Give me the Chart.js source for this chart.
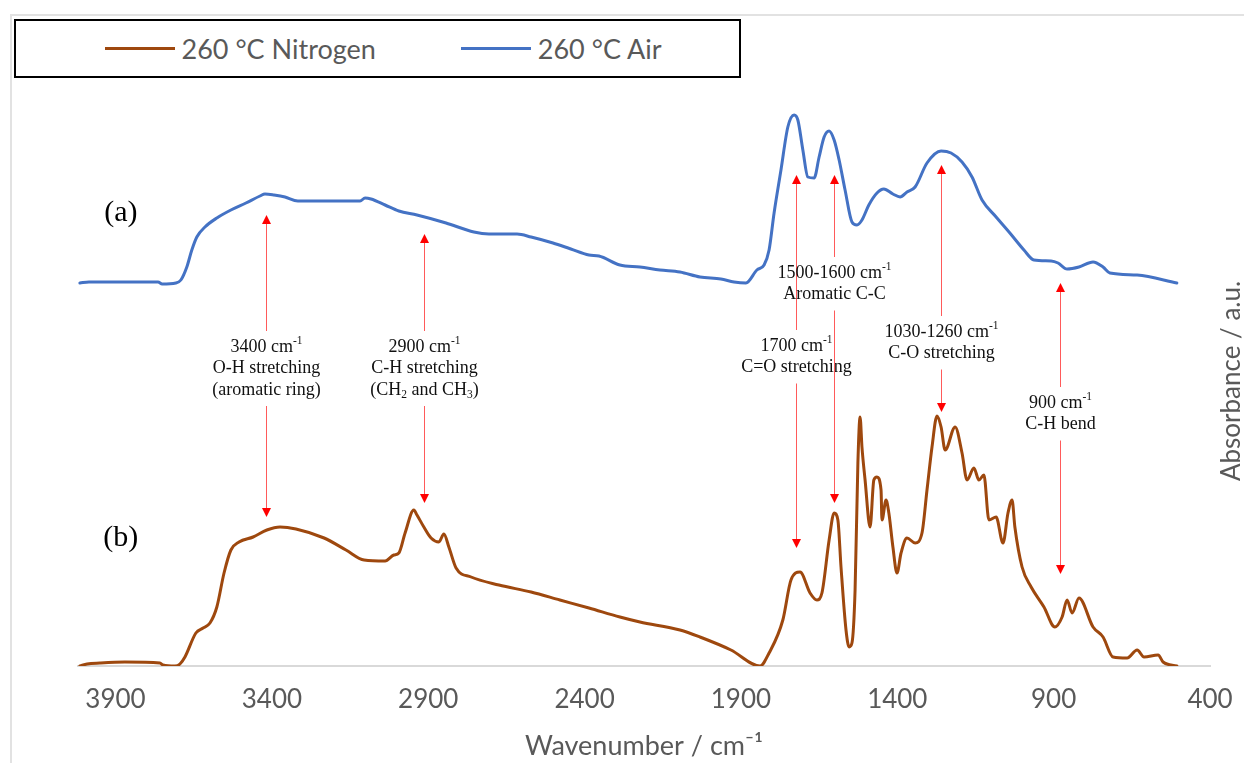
<!DOCTYPE html>
<html>
<head>
<meta charset="utf-8">
<title>FTIR 260 °C</title>
<script src="https://cdn.jsdelivr.net/npm/chart.js@4.4.1/dist/chart.umd.min.js"></script>
<style>
    html, body { margin: 0; padding: 0; background: #ffffff; }
    #wrap { position: relative; width: 1244px; height: 763px; overflow: hidden; }
    #frame { position: absolute; left: 10px; top: 14px; width: 1400px; height: 900px; border: 2px solid #e2e2e2; }
    #ftirChart { position: absolute; left: 0; top: 0; }
    #legend {
        position: absolute; left: 14px; top: 19px; width: 727px; height: 59px;
        box-sizing: border-box; border: 2.5px solid #000; background: #fff;
        display: flex; align-items: center; justify-content: center; gap: 85px;
        padding-left: 11px;
        font-family: Lato, "Open Sans", sans-serif; font-size: 27px; color: #595959;
    }
    .legend-item { display: flex; align-items: center; }
    .legend-line { width: 70px; height: 3px; margin-right: 7px; }
</style>
</head>
<body>
<div id="wrap">
    <div id="frame"></div>
    <canvas id="ftirChart" width="1244" height="763"></canvas>
    <div id="legend"></div>
</div>
<script>
// series labels (legend order)
const seriesLabels = ["260 °C Nitrogen", "260 °C Air"];

// (a) 260 °C Air, offset spectrum
const airWavenumbers = [4014, 3985, 3764, 3751, 3707, 3691, 3672, 3656, 3640, 3614, 3576, 3531, 3483, 3438, 3422, 3393, 3358, 3317, 3118, 3102, 3083, 3038, 2994, 2936, 2843, 2754, 2706, 2616, 2571, 2501, 2444, 2386, 2354, 2287, 2223, 2159, 2095, 2031, 1964, 1922, 1884, 1849, 1826, 1810, 1794, 1772, 1750, 1730, 1718, 1702, 1686, 1666, 1650, 1634, 1618, 1602, 1586, 1567, 1545, 1529, 1513, 1491, 1465, 1443, 1414, 1391, 1369, 1343, 1305, 1260, 1228, 1193, 1161, 1129, 1084, 1040, 995, 963, 908, 886, 857, 819, 774, 742, 720, 633, 506];
const airAbsorbance = [3.83, 3.84, 3.84, 3.82, 3.83, 3.86, 3.99, 4.16, 4.29, 4.39, 4.48, 4.56, 4.63, 4.70, 4.72, 4.71, 4.69, 4.65, 4.65, 4.68, 4.67, 4.61, 4.55, 4.51, 4.43, 4.34, 4.32, 4.32, 4.29, 4.23, 4.17, 4.11, 4.10, 4.01, 3.99, 3.96, 3.94, 3.89, 3.87, 3.84, 3.83, 3.96, 4.01, 4.16, 4.53, 4.96, 5.39, 5.51, 5.46, 5.16, 4.89, 4.88, 5.09, 5.29, 5.35, 5.26, 5.06, 4.76, 4.44, 4.41, 4.46, 4.61, 4.73, 4.77, 4.72, 4.69, 4.74, 4.79, 5.03, 5.15, 5.13, 5.04, 4.89, 4.66, 4.49, 4.33, 4.16, 4.06, 4.05, 4.03, 3.97, 3.99, 4.04, 3.99, 3.93, 3.91, 3.83];

// (b) 260 °C Nitrogen
const nitrogenWavenumbers = [4014, 3991, 3950, 3870, 3758, 3748, 3710, 3694, 3678, 3643, 3620, 3598, 3576, 3553, 3531, 3505, 3460, 3416, 3374, 3323, 3233, 3163, 3105, 3038, 3010, 2994, 2974, 2946, 2936, 2914, 2891, 2866, 2850, 2834, 2811, 2763, 2674, 2571, 2479, 2386, 2287, 2223, 2095, 2031, 1932, 1839, 1810, 1766, 1740, 1711, 1679, 1657, 1641, 1618, 1602, 1590, 1580, 1564, 1554, 1545, 1535, 1526, 1519, 1513, 1503, 1487, 1475, 1465, 1452, 1449, 1436, 1427, 1414, 1401, 1388, 1369, 1343, 1321, 1305, 1289, 1273, 1260, 1247, 1215, 1193, 1177, 1155, 1139, 1123, 1107, 1084, 1062, 1046, 1033, 1024, 1001, 972, 931, 896, 873, 857, 841, 819, 774, 742, 710, 665, 633, 611, 566, 550, 506];
const nitrogenAbsorbance = [0.00, 0.02, 0.03, 0.04, 0.03, 0.01, 0.00, 0.02, 0.09, 0.33, 0.38, 0.43, 0.59, 0.93, 1.16, 1.24, 1.29, 1.36, 1.39, 1.37, 1.28, 1.16, 1.06, 1.05, 1.11, 1.13, 1.33, 1.56, 1.51, 1.39, 1.28, 1.24, 1.32, 1.19, 0.98, 0.89, 0.81, 0.74, 0.66, 0.58, 0.49, 0.44, 0.36, 0.29, 0.16, 0.00, 0.13, 0.46, 0.86, 0.94, 0.73, 0.66, 0.73, 1.26, 1.53, 1.46, 0.99, 0.36, 0.19, 0.23, 0.76, 2.03, 2.49, 2.19, 1.86, 1.39, 1.86, 1.89, 1.76, 1.46, 1.66, 1.53, 1.19, 0.93, 1.13, 1.28, 1.23, 1.33, 1.76, 2.19, 2.50, 2.39, 2.16, 2.39, 2.13, 1.86, 1.98, 1.86, 1.91, 1.46, 1.49, 1.23, 1.53, 1.66, 1.39, 0.99, 0.79, 0.59, 0.39, 0.49, 0.66, 0.53, 0.68, 0.39, 0.29, 0.09, 0.08, 0.16, 0.09, 0.11, 0.04, 0.00];

// x axis tick labels
const xTickValues = [3900, 3400, 2900, 2400, 1900, 1400, 900, 400];

// band assignments: wavenumber of the arrow, text lines, arrow tips / text row in a.u.
const bandWavenumbers = [3419, 2914, 1724, 1602, 1260, 880];
const bandLines = [
    ["3400 cm^{-1}", "O-H stretching", "(aromatic ring)"],
    ["2900 cm^{-1}", "C-H stretching", "(CH_{2} and CH_{3})"],
    ["1700 cm^{-1}", "C=O stretching"],
    ["1500-1600 cm^{-1}", "Aromatic C-C"],
    ["1030-1260 cm^{-1}", "C-O stretching"],
    ["900 cm^{-1}", "C-H bend"]
];
const bandUpTips = [4.51, 4.32, 4.91, 4.91, 5.01, 3.83];
const bandTextRows = [3.19, 3.19, 3.20, 3.93, 3.34, 2.63];
const bandDownTips = [1.49, 1.63, 1.18, 1.63, 2.54, 0.92];

// panel labels
const panelLabels = ["(a)", "(b)"];
const panelLabelWavenumber = 3883;
const panelLabelRows = [4.53, 1.28];

const GRAY_TEXT = "#595959";
const SANS = "Lato, 'Open Sans', sans-serif";
const SERIF = "'Liberation Serif', 'Times New Roman', serif";

function toPoints(xs, ys) {
    return xs.map((x, i) => ({ x, y: ys[i] }));
}

function parseRich(str) {
    const parts = [];
    const re = /([\^_])\{([^}]*)\}/g;
    let last = 0;
    let m;
    while ((m = re.exec(str))) {
        if (m.index > last) parts.push({ t: str.slice(last, m.index), mode: "n" });
        parts.push({ t: m[2], mode: m[1] === "^" ? "sup" : "sub" });
        last = re.lastIndex;
    }
    if (last < str.length) parts.push({ t: str.slice(last), mode: "n" });
    return parts;
}

function fontFor(mode) {
    return mode === "n" ? `18px ${SERIF}` : `11.5px ${SERIF}`;
}

function drawRichCentered(ctx, str, cx, cy) {
    const parts = parseRich(str);
    let total = 0;
    parts.forEach(p => {
        ctx.font = fontFor(p.mode);
        p.w = ctx.measureText(p.t).width;
        total += p.w;
    });
    let x = cx - total / 2;
    ctx.textAlign = "left";
    ctx.textBaseline = "middle";
    parts.forEach(p => {
        ctx.font = fontFor(p.mode);
        const dy = p.mode === "sup" ? -6 : p.mode === "sub" ? 5 : 0;
        ctx.fillText(p.t, x, cy + dy);
        x += p.w;
    });
}

function drawArrow(ctx, px, fromY, tipY) {
    const dir = tipY < fromY ? -1 : 1;
    ctx.strokeStyle = "#ff5a5a";
    ctx.lineWidth = 1;
    ctx.beginPath();
    ctx.moveTo(px, fromY);
    ctx.lineTo(px, tipY - dir * 8);
    ctx.stroke();
    ctx.fillStyle = "#ff0000";
    ctx.beginPath();
    ctx.moveTo(px, tipY);
    ctx.lineTo(px - 4.5, tipY - dir * 9);
    ctx.lineTo(px + 4.5, tipY - dir * 9);
    ctx.closePath();
    ctx.fill();
}

const annotationPlugin = {
    id: "bandAnnotations",
    afterDatasetsDraw(chart) {
        const { ctx, chartArea } = chart;
        const x = chart.scales.x;
        const y = chart.scales.y;
        const lineStep = 21.5;

        ctx.save();
        bandWavenumbers.forEach((wn, i) => {
            const px = Math.round(x.getPixelForValue(wn)) + 0.5;
            const lines = bandLines[i];
            const firstRow = y.getPixelForValue(bandTextRows[i]);
            const lastRow = firstRow + (lines.length - 1) * lineStep;

            drawArrow(ctx, px, firstRow - 16, y.getPixelForValue(bandUpTips[i]));
            drawArrow(ctx, px, lastRow + 16, y.getPixelForValue(bandDownTips[i]));

            ctx.fillStyle = "#111111";
            lines.forEach((line, k) => drawRichCentered(ctx, line, px, firstRow + k * lineStep));
        });

        // (a) / (b)
        ctx.fillStyle = "#000000";
        ctx.font = `30px ${SERIF}`;
        ctx.textAlign = "center";
        ctx.textBaseline = "middle";
        panelLabels.forEach((label, i) => {
            ctx.fillText(label, x.getPixelForValue(panelLabelWavenumber), y.getPixelForValue(panelLabelRows[i]));
        });

        // y axis title on the right, reading bottom to top
        ctx.translate(chartArea.right + 22, (chartArea.top + chartArea.bottom) / 2);
        ctx.rotate(-Math.PI / 2);
        ctx.fillStyle = GRAY_TEXT;
        ctx.font = `26px ${SANS}`;
        ctx.fillText("Absorbance / a.u.", 0, 0);
        ctx.restore();
    }
};

function renderLegend(chart) {
    const legend = document.getElementById("legend");
    legend.innerHTML = chart.data.datasets.map(ds => `
        <div class="legend-item">
            <span class="legend-line" style="background:${ds.borderColor}"></span>
            <span>${ds.label}</span>
        </div>
    `).join("");
}

const ftirChart = new Chart(document.getElementById("ftirChart"), {
    type: "line",
    data: {
        datasets: [
            {
                label: seriesLabels[0],
                data: toPoints(nitrogenWavenumbers, nitrogenAbsorbance),
                borderColor: "#9e480e",
                borderWidth: 3,
                pointRadius: 0,
                cubicInterpolationMode: "monotone",
                borderJoinStyle: "round",
                borderCapStyle: "round",
                fill: false
            },
            {
                label: seriesLabels[1],
                data: toPoints(airWavenumbers, airAbsorbance),
                borderColor: "#4472c4",
                borderWidth: 3,
                pointRadius: 0,
                cubicInterpolationMode: "monotone",
                borderJoinStyle: "round",
                borderCapStyle: "round",
                fill: false
            }
        ]
    },
    options: {
        responsive: false,
        animation: false,
        events: [],
        layout: { padding: { left: 78, right: 34, top: 96, bottom: 3 } },
        plugins: {
            legend: { display: false },
            tooltip: { enabled: false }
        },
        scales: {
            x: {
                type: "linear",
                reverse: true,
                min: 400,
                max: 4020,
                afterBuildTicks(scale) {
                    scale.ticks = xTickValues.map(value => ({ value }));
                },
                afterFit(scale) {
                    // let the "400" label hang into the right margin
                    scale.paddingRight = 0;
                },
                grid: { display: false, drawTicks: false },
                border: { display: true, color: "#d9d9d9", width: 2 },
                ticks: {
                    autoSkip: false,
                    maxRotation: 0,
                    padding: 20.5,
                    color: GRAY_TEXT,
                    font: { family: SANS, size: 26, lineHeight: 1 },
                    callback: value => String(value)
                },
                title: {
                    display: true,
                    text: "Wavenumber / cm⁻¹",
                    color: GRAY_TEXT,
                    font: { family: SANS, size: 27, lineHeight: 1 },
                    padding: { top: 0, bottom: 0 }
                }
            },
            y: {
                display: false,
                min: 0,
                max: 5.7
            }
        }
    },
    plugins: [annotationPlugin]
});

renderLegend(ftirChart);
</script>
</body>
</html>
